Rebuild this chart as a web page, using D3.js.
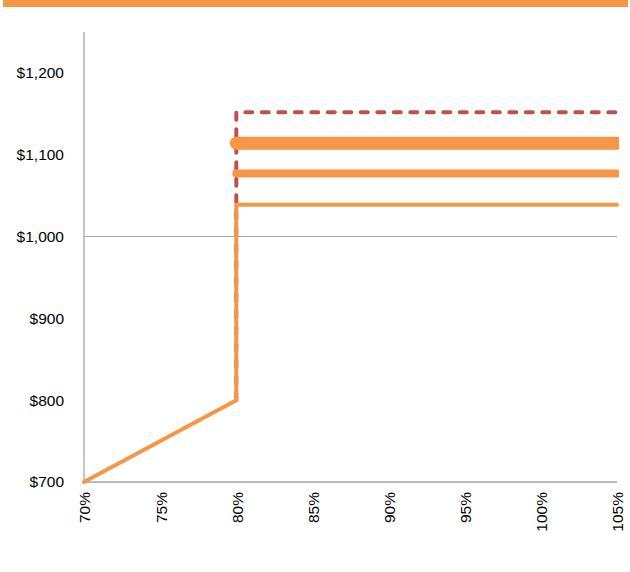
<!DOCTYPE html>
<html>
<head>
<meta charset="utf-8">
<script src="https://cdn.jsdelivr.net/npm/d3@7"></script>
<style>
  body { margin: 0; background: #fff; }
  text { font-family: "Liberation Sans", Arial, sans-serif; }
</style>
</head>
<body>
<div id="chart"></div>
<script>
// tick values
var xTicks = [70, 75, 80, 85, 90, 95, 100, 105];
var yTicks = [700, 800, 900, 1000, 1100, 1200];

// series (x in %, y in $)
var thinX = [70, 80, 80, 105];
var thinY = [700, 800, 1039, 1039];
var mediumX = [80, 105];
var mediumY = [1077, 1077];
var thickX = [80, 105];
var thickY = [1114, 1114];
var dashX = [80, 80, 105];
var dashY = [800, 1152, 1152];

var width = 630, height = 572;
var orange = '#f79646', red = '#c0504d', grey = '#a6a6a6';

var svg = d3.select('#chart').append('svg')
  .attr('width', width)
  .attr('height', height);

// top band
svg.append('rect')
  .attr('x', 3).attr('y', 0)
  .attr('width', 625).attr('height', 7)
  .attr('fill', orange);

var x = d3.scaleLinear().domain([70, 105]).range([84, 617]);
var y = d3.scaleLinear().domain([700, 1250]).range([482, 32]);

// lines are cut flat at the right edge of the plot
svg.append('clipPath').attr('id', 'plot')
  .append('rect')
  .attr('x', 0).attr('y', 0)
  .attr('width', x(105) + 2).attr('height', height);

// gridline at $1,000
svg.append('line')
  .attr('x1', x(70)).attr('x2', x(105))
  .attr('y1', y(1000)).attr('y2', y(1000))
  .attr('stroke', grey).attr('stroke-width', 1);

// axes
svg.append('line')
  .attr('x1', x(70)).attr('x2', x(70))
  .attr('y1', y(1250)).attr('y2', y(700))
  .attr('stroke', grey).attr('stroke-width', 1.3);
svg.append('line')
  .attr('x1', x(70)).attr('x2', x(105))
  .attr('y1', y(700)).attr('y2', y(700))
  .attr('stroke', grey).attr('stroke-width', 1.3);

svg.selectAll('.ylab')
  .data(yTicks)
  .enter()
  .append('text')
  .attr('class', 'ylab')
  .attr('x', 64)
  .attr('y', function(d) { return y(d); })
  .attr('dy', '0.35em')
  .attr('text-anchor', 'end')
  .attr('font-size', 15.5)
  .attr('fill', '#000')
  .text(function(d) { return '$' + d3.format(',')(d); });

svg.selectAll('.xlab')
  .data(xTicks)
  .enter()
  .append('text')
  .attr('class', 'xlab')
  .attr('transform', function(d) { return 'translate(' + [x(d) + 1, 492] + ') rotate(-90)'; })
  .attr('dy', '0.35em')
  .attr('text-anchor', 'end')
  .attr('font-size', 15.5)
  .attr('fill', '#000')
  .text(function(d) { return d + '%'; });

var marks = svg.append('g').attr('clip-path', 'url(#plot)');

function draw(xs, ys, color, w, dash) {
  var line = d3.line()
    .x(function(d) { return x(xs[d]); })
    .y(function(d) { return y(ys[d]); });
  var p = marks.append('path')
    .attr('d', line(d3.range(xs.length)))
    .attr('fill', 'none')
    .attr('stroke', color)
    .attr('stroke-width', w)
    .attr('stroke-linecap', 'round')
    .attr('stroke-linejoin', 'round');
  if (dash) p.attr('stroke-dasharray', dash);
}

draw(dashX, dashY, red, 4, '7,9.5');
draw(thickX, thickY, orange, 13);
draw(mediumX, mediumY, orange, 8);
draw(thinX, thinY, orange, 4);
</script>
</body>
</html>
